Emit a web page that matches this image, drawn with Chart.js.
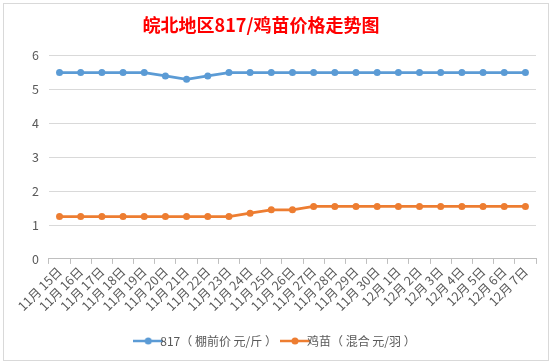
<!DOCTYPE html>
<html>
<head>
<meta charset="utf-8">
<script src="https://cdn.jsdelivr.net/npm/chart.js@4/dist/chart.umd.min.js"></script>
<style>
  html, body { margin: 0; padding: 0; background: #fff; }
  #wrap { position: relative; width: 552px; height: 363px; }
</style>
</head>
<body>
<div id="wrap"><canvas id="chart" width="552" height="363"></canvas></div>
<script>
const categories = [
  '11月 15日', '11月 16日', '11月 17日', '11月 18日', '11月 19日', '11月 20日',
  '11月 21日', '11月 22日', '11月 23日', '11月 24日', '11月 25日', '11月 26日',
  '11月 27日', '11月 28日', '11月 29日', '11月 30日', '12月 1日', '12月 2日',
  '12月 3日', '12月 4日', '12月 5日', '12月 6日', '12月 7日'
];
const broilerPrice = [
  5.5, 5.5, 5.5, 5.5, 5.5, 5.4, 5.3, 5.4, 5.5, 5.5, 5.5, 5.5,
  5.5, 5.5, 5.5, 5.5, 5.5, 5.5, 5.5, 5.5, 5.5, 5.5, 5.5
];
const chickPrice = [
  1.25, 1.25, 1.25, 1.25, 1.25, 1.25, 1.25, 1.25, 1.25, 1.35, 1.45, 1.45,
  1.55, 1.55, 1.55, 1.55, 1.55, 1.55, 1.55, 1.55, 1.55, 1.55, 1.55
];
const seriesNames = ['817（ 棚前价 元/斤 ）', '鸡苗（ 混合 元/羽 ）'];
const seriesColors = ['#5b9bd5', '#ed7d31'];
const yTicks = [0, 1, 2, 3, 4, 5, 6];

const FONT = '"Noto Sans CJK SC", "Microsoft YaHei", sans-serif';

// little "line with a dot" marker like the Excel legend
function legendMarker(color) {
  const c = document.createElement('canvas');
  c.width = 30; c.height = 10;
  const g = c.getContext('2d');
  g.strokeStyle = color;
  g.lineWidth = 2.5;
  g.beginPath(); g.moveTo(0, 5); g.lineTo(30, 5); g.stroke();
  g.fillStyle = color;
  g.beginPath(); g.arc(15, 5, 3.5, 0, Math.PI * 2); g.fill();
  return c;
}

const frame = {
  id: 'frame',
  afterDraw(chart) {
    const ctx = chart.ctx;
    ctx.save();
    ctx.strokeStyle = '#d9d9d9';
    ctx.lineWidth = 1;
    ctx.strokeRect(3.5, 3.5, 545, 357);
    ctx.restore();
  }
};

new Chart(document.getElementById('chart'), {
  type: 'line',
  data: {
    labels: categories,
    datasets: [broilerPrice, chickPrice].map((values, i) => ({
      label: seriesNames[i],
      data: values,
      borderColor: seriesColors[i],
      backgroundColor: seriesColors[i],
      borderWidth: 2.75,
      pointRadius: 3.5,
      pointBorderWidth: 0,
      pointStyle: 'circle',
      tension: 0
    }))
  },
  options: {
    responsive: false,
    animation: false,
    layout: { padding: { left: 22, right: 16, top: 8, bottom: 6 } },
    plugins: {
      title: {
        display: true,
        // trailing full-width spaces nudge the centred title a bit left, as in Excel
        text: '皖北地区817/鸡苗价格走势图\u3000\u3000',
        color: '#ff0000',
        font: { family: FONT, size: 18, weight: 'bold' },
        padding: { top: 6, bottom: 20 }
      },
      legend: {
        position: 'bottom',
        title: {
          display: true,
          text: '',
          font: { size: 1 },
          padding: { top: 0, bottom: 8 }
        },
        labels: {
          color: '#595959',
          font: { family: FONT, size: 12 },
          usePointStyle: true,
          boxWidth: 30,
          padding: 12,
          generateLabels(chart) {
            return chart.data.datasets.map((ds, i) => ({
              text: ds.label,
              pointStyle: legendMarker(seriesColors[i]),
              fillStyle: seriesColors[i],
              strokeStyle: seriesColors[i],
              lineWidth: 0,
              datasetIndex: i,
              fontColor: '#595959'
            }));
          }
        }
      },
      tooltip: { enabled: false }
    },
    scales: {
      x: {
        offset: true,
        grid: {
          display: true,
          drawOnChartArea: false,
          drawTicks: true,
          tickLength: 5,
          color: '#bfbfbf',
          offset: true
        },
        border: { display: true, color: '#bfbfbf' },
        ticks: {
          color: '#595959',
          font: { family: FONT, size: 12.5 },
          minRotation: 45,
          maxRotation: 45,
          autoSkip: false,
          padding: 0
        }
      },
      y: {
        min: 0,
        max: 6,
        afterBuildTicks(axis) { axis.ticks = yTicks.map(v => ({ value: v })); },
        grid: { color: '#d9d9d9', drawTicks: false },
        border: { display: false },
        ticks: {
          color: '#595959',
          font: { family: FONT, size: 12.5 },
          padding: 10
        }
      }
    }
  },
  plugins: [frame]
});
</script>
</body>
</html>
